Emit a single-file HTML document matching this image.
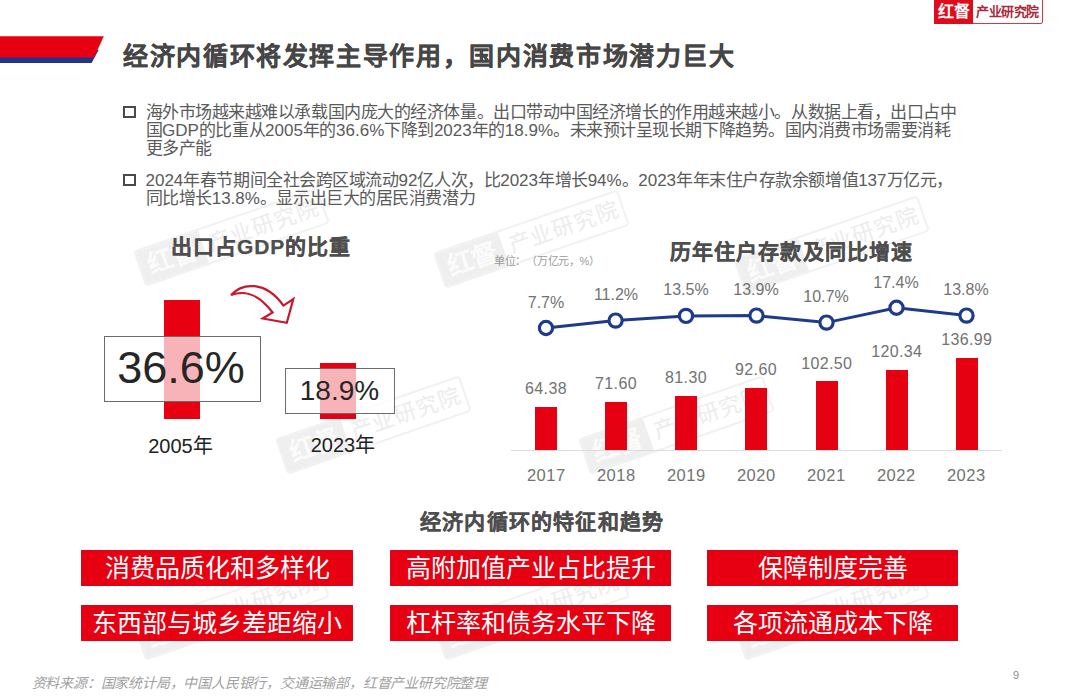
<!DOCTYPE html>
<html lang="zh-CN"><head><meta charset="utf-8">
<style>
*{margin:0;padding:0;box-sizing:border-box}
html,body{width:1080px;height:696px;overflow:hidden;background:#fff}
body{position:relative;font-family:"Liberation Sans",sans-serif;color:#333;text-spacing-trim:space-all}
.a{position:absolute;white-space:nowrap}
.wm{position:absolute;width:195px;height:38px;border:2px solid #f1f1f1;border-radius:4px;transform:rotate(-19deg);}
.wm .f{position:absolute;left:0;top:0;width:66px;height:34px;background:#efefef;color:#fbfbfb;font-size:26px;font-weight:bold;line-height:34px;text-align:center}
.wm .t{position:absolute;left:72px;top:3px;font-size:22px;letter-spacing:1px;line-height:28px;color:#ececec}
.title{font-size:25px;letter-spacing:1.64px;font-weight:bold;color:#464646;line-height:25px;-webkit-text-stroke:0.3px #464646}
.bul{font-size:17px;letter-spacing:-0.45px;color:#5a5a5a;line-height:18px}
.sq{position:absolute;width:12.5px;height:12px;border:2.5px solid #4a4a4a}
.h2{font-size:21px;letter-spacing:1.2px;font-weight:bold;color:#4e4e4e;line-height:21px;-webkit-text-stroke:0.25px #4e4e4e}
.btn{position:absolute;background:#e60012;box-shadow:inset 0 0 0 1px #d5081b;border-radius:1px;color:#fff;font-size:25px;line-height:36px;text-align:center;height:36px}
.lbl{font-size:16px;color:#727272;line-height:16px;text-align:center;width:80px}
.l{letter-spacing:0px}
.bar{position:absolute;background:#e50012;width:22px}
</style></head><body>

<!-- watermarks -->
<div class="wm" style="left:134px;top:218px"><div class="f">红督</div><div class="t">产业研究院</div></div>
<div class="wm" style="left:434px;top:220px"><div class="f">红督</div><div class="t">产业研究院</div></div>
<div class="wm" style="left:734px;top:226px"><div class="f">红督</div><div class="t">产业研究院</div></div>
<div class="wm" style="left:276px;top:406px"><div class="f">红督</div><div class="t">产业研究院</div></div>
<div class="wm" style="left:579px;top:406px"><div class="f">红督</div><div class="t">产业研究院</div></div>
<div class="wm" style="left:134px;top:592px"><div class="f">红督</div><div class="t">产业研究院</div></div>
<div class="wm" style="left:434px;top:592px"><div class="f">红督</div><div class="t">产业研究院</div></div>
<div class="wm" style="left:734px;top:592px"><div class="f">红督</div><div class="t">产业研究院</div></div>

<!-- header stripe -->
<svg class="a" style="left:0;top:0" width="120" height="70">
<polygon points="0,50 98.6,50 91.6,63.1 0,63.1" fill="#1f3590"/>
<polygon points="0,36.2 103.8,36.2 94,57.6 0,57.6" fill="#e60012"/>
</svg>

<!-- logo -->
<div class="a" style="left:934px;top:-2px;width:109px;height:26px;border:1px solid #d9363e;border-radius:2px;background:#fff"></div>
<div class="a" style="left:934px;top:-2px;width:39px;height:26px;background:#e00b1c;color:#fff;font-size:16px;font-weight:bold;line-height:28px;text-align:center">红督</div>
<div class="a" style="left:976px;top:4px;font-size:13px;letter-spacing:-0.4px;font-weight:bold;color:#a82a3c;line-height:16px">产业研究院</div>

<div class="a title" style="left:123px;top:43.5px">经济内循环将发挥主导作用，国内消费市场潜力巨大</div>

<div class="sq" style="left:123px;top:106px"></div>
<div class="a bul" style="left:145.5px;top:104px">海外市场越来越难以承载国内庞大的经济体量。出口带动中国经济增长的作用越来越小。从数据上看，出口占中<br>国<span class="l">GDP</span>的比重从<span class="l">2005</span>年的<span class="l">36.6%</span>下降到<span class="l">2023</span>年的<span class="l">18.9%</span>。未来预计呈现长期下降趋势。国内消费市场需要消耗<br>更多产能</div>
<div class="sq" style="left:123px;top:174px"></div>
<div class="a bul" style="left:145.5px;top:172px"><span class="l">2024</span>年春节期间全社会跨区域流动<span class="l">92</span>亿人次，比<span class="l">2023</span>年增长<span class="l">94%</span>。<span class="l">2023</span>年年末住户存款余额增值<span class="l">137</span>万亿元，<br>同比增长<span class="l">13.8%</span>。显示出巨大的居民消费潜力</div>

<!-- left chart -->
<div class="a h2" style="left:171.3px;top:236px;letter-spacing:0.9px">出口占GDP的比重</div>
<div class="a" style="left:164px;top:300px;width:36px;height:119px;background:#e60012"></div>
<div class="a" style="left:104px;top:336px;width:157px;height:66px;border:1px solid #6b6b6b;background:rgba(255,255,255,0.7)"></div>
<div class="a" style="left:104px;top:336px;width:157px;height:66px;font-size:45px;line-height:64px;text-align:center;color:#262626;text-indent:-3px">36.6%</div>
<div class="a lbl" style="left:140.5px;top:436px;font-size:20px;line-height:20px;color:#222">2005年</div>

<svg class="a" style="left:0;top:0" width="400" height="400">
<path d="M231,295 C242,283 265,280 283.4,305.6 L293.3,299.1 L286.8,322.8 L262.7,318.5 L272.6,312.5 C260,296 247,289 231,295 Z" fill="none" stroke="#c8172f" stroke-width="2.2" stroke-linejoin="miter"/>
</svg>

<div class="a" style="left:320px;top:363px;width:36px;height:56px;background:#e60012"></div>
<div class="a" style="left:285px;top:368px;width:110px;height:46px;border:1px solid #6b6b6b;background:rgba(255,255,255,0.7)"></div>
<div class="a" style="left:285px;top:368px;width:110px;height:46px;font-size:28px;line-height:46px;text-align:center;color:#262626;text-indent:-1px">18.9%</div>
<div class="a lbl" style="left:303px;top:435px;font-size:20px;line-height:20px;color:#222">2023年</div>

<!-- right chart -->
<div class="a h2" style="left:669.5px;top:240.5px">历年住户存款及同比增速</div>
<div class="a" style="left:494px;top:254.5px;font-size:11px;letter-spacing:-0.3px;color:#9a9a9a;line-height:12px">单位：（万亿元，%）</div>

<div class="a" style="left:511px;top:450px;width:491px;height:1px;background:#dcdcdc"></div>
<div class="bar" style="left:535px;top:407px;height:43px"></div>
<div class="bar" style="left:605px;top:402px;height:48px"></div>
<div class="bar" style="left:675px;top:396px;height:54px"></div>
<div class="bar" style="left:745px;top:388px;height:62px"></div>
<div class="bar" style="left:816px;top:381px;height:69px"></div>
<div class="bar" style="left:886px;top:369.5px;height:80.5px"></div>
<div class="bar" style="left:956px;top:358px;height:92px"></div>

<svg class="a" style="left:0;top:0" width="1080" height="500">
<polyline points="546,328 615.6,320.6 686,315.9 756.5,315.6 826.5,322.6 896.5,307.8 966.5,315.6" fill="none" stroke="#1f3a8a" stroke-width="3"/>
<g fill="#fff" stroke="#1f3a8a" stroke-width="3.2">
<circle cx="546" cy="328" r="6.6"/><circle cx="615.6" cy="320.6" r="6.6"/><circle cx="686" cy="315.9" r="6.6"/><circle cx="756.5" cy="315.6" r="6.6"/><circle cx="826.5" cy="322.6" r="6.6"/><circle cx="896.5" cy="307.8" r="6.6"/><circle cx="966.5" cy="315.6" r="6.6"/>
</g>
</svg>

<div class="a lbl" style="left:506px;top:294.5px">7.7%</div>
<div class="a lbl" style="left:576px;top:287px">11.2%</div>
<div class="a lbl" style="left:646px;top:282px">13.5%</div>
<div class="a lbl" style="left:716px;top:282px">13.9%</div>
<div class="a lbl" style="left:786px;top:289px">10.7%</div>
<div class="a lbl" style="left:856px;top:275px">17.4%</div>
<div class="a lbl" style="left:926px;top:282px">13.8%</div>

<div class="a lbl" style="left:506px;top:381px;letter-spacing:0.35px">64.38</div>
<div class="a lbl" style="left:576px;top:376px;letter-spacing:0.35px">71.60</div>
<div class="a lbl" style="left:646px;top:370px;letter-spacing:0.35px">81.30</div>
<div class="a lbl" style="left:716px;top:362px;letter-spacing:0.35px">92.60</div>
<div class="a lbl" style="left:786px;top:355.5px;letter-spacing:0.35px;text-indent:1.5px">102.50</div>
<div class="a lbl" style="left:856px;top:343.5px;letter-spacing:0.35px;text-indent:1.5px">120.34</div>
<div class="a lbl" style="left:926px;top:332px;letter-spacing:0.35px;text-indent:1.5px">136.99</div>

<div class="a lbl" style="left:506px;top:467px;font-size:16.5px;line-height:16.5px;letter-spacing:0.5px;text-indent:0.5px">2017</div>
<div class="a lbl" style="left:576px;top:467px;font-size:16.5px;line-height:16.5px;letter-spacing:0.5px;text-indent:0.5px">2018</div>
<div class="a lbl" style="left:646px;top:467px;font-size:16.5px;line-height:16.5px;letter-spacing:0.5px;text-indent:0.5px">2019</div>
<div class="a lbl" style="left:716px;top:467px;font-size:16.5px;line-height:16.5px;letter-spacing:0.5px;text-indent:0.5px">2020</div>
<div class="a lbl" style="left:786px;top:467px;font-size:16.5px;line-height:16.5px;letter-spacing:0.5px;text-indent:0.5px">2021</div>
<div class="a lbl" style="left:856px;top:467px;font-size:16.5px;line-height:16.5px;letter-spacing:0.5px;text-indent:0.5px">2022</div>
<div class="a lbl" style="left:926px;top:467px;font-size:16.5px;line-height:16.5px;letter-spacing:0.5px;text-indent:0.5px">2023</div>

<!-- bottom -->
<div class="a h2" style="left:420px;top:510.5px">经济内循环的特征和趋势</div>
<div class="btn" style="left:81px;top:550px;width:272px">消费品质化和多样化</div>
<div class="btn" style="left:390px;top:550px;width:281px">高附加值产业占比提升</div>
<div class="btn" style="left:707px;top:550px;width:251px">保障制度完善</div>
<div class="btn" style="left:81px;top:605px;width:272px">东西部与城乡差距缩小</div>
<div class="btn" style="left:390px;top:605px;width:281px">杠杆率和债务水平下降</div>
<div class="btn" style="left:707px;top:605px;width:251px">各项流通成本下降</div>

<div class="a" style="left:31.5px;top:676px;font-size:14px;letter-spacing:-0.2px;font-style:italic;color:#a0a0a0;line-height:14px">资料来源：国家统计局，中国人民银行，交通运输部，红督产业研究院整理</div>
<div class="a" style="left:1013px;top:669px;font-size:11px;color:#8a8a8a;line-height:12px">9</div>
</body></html>
